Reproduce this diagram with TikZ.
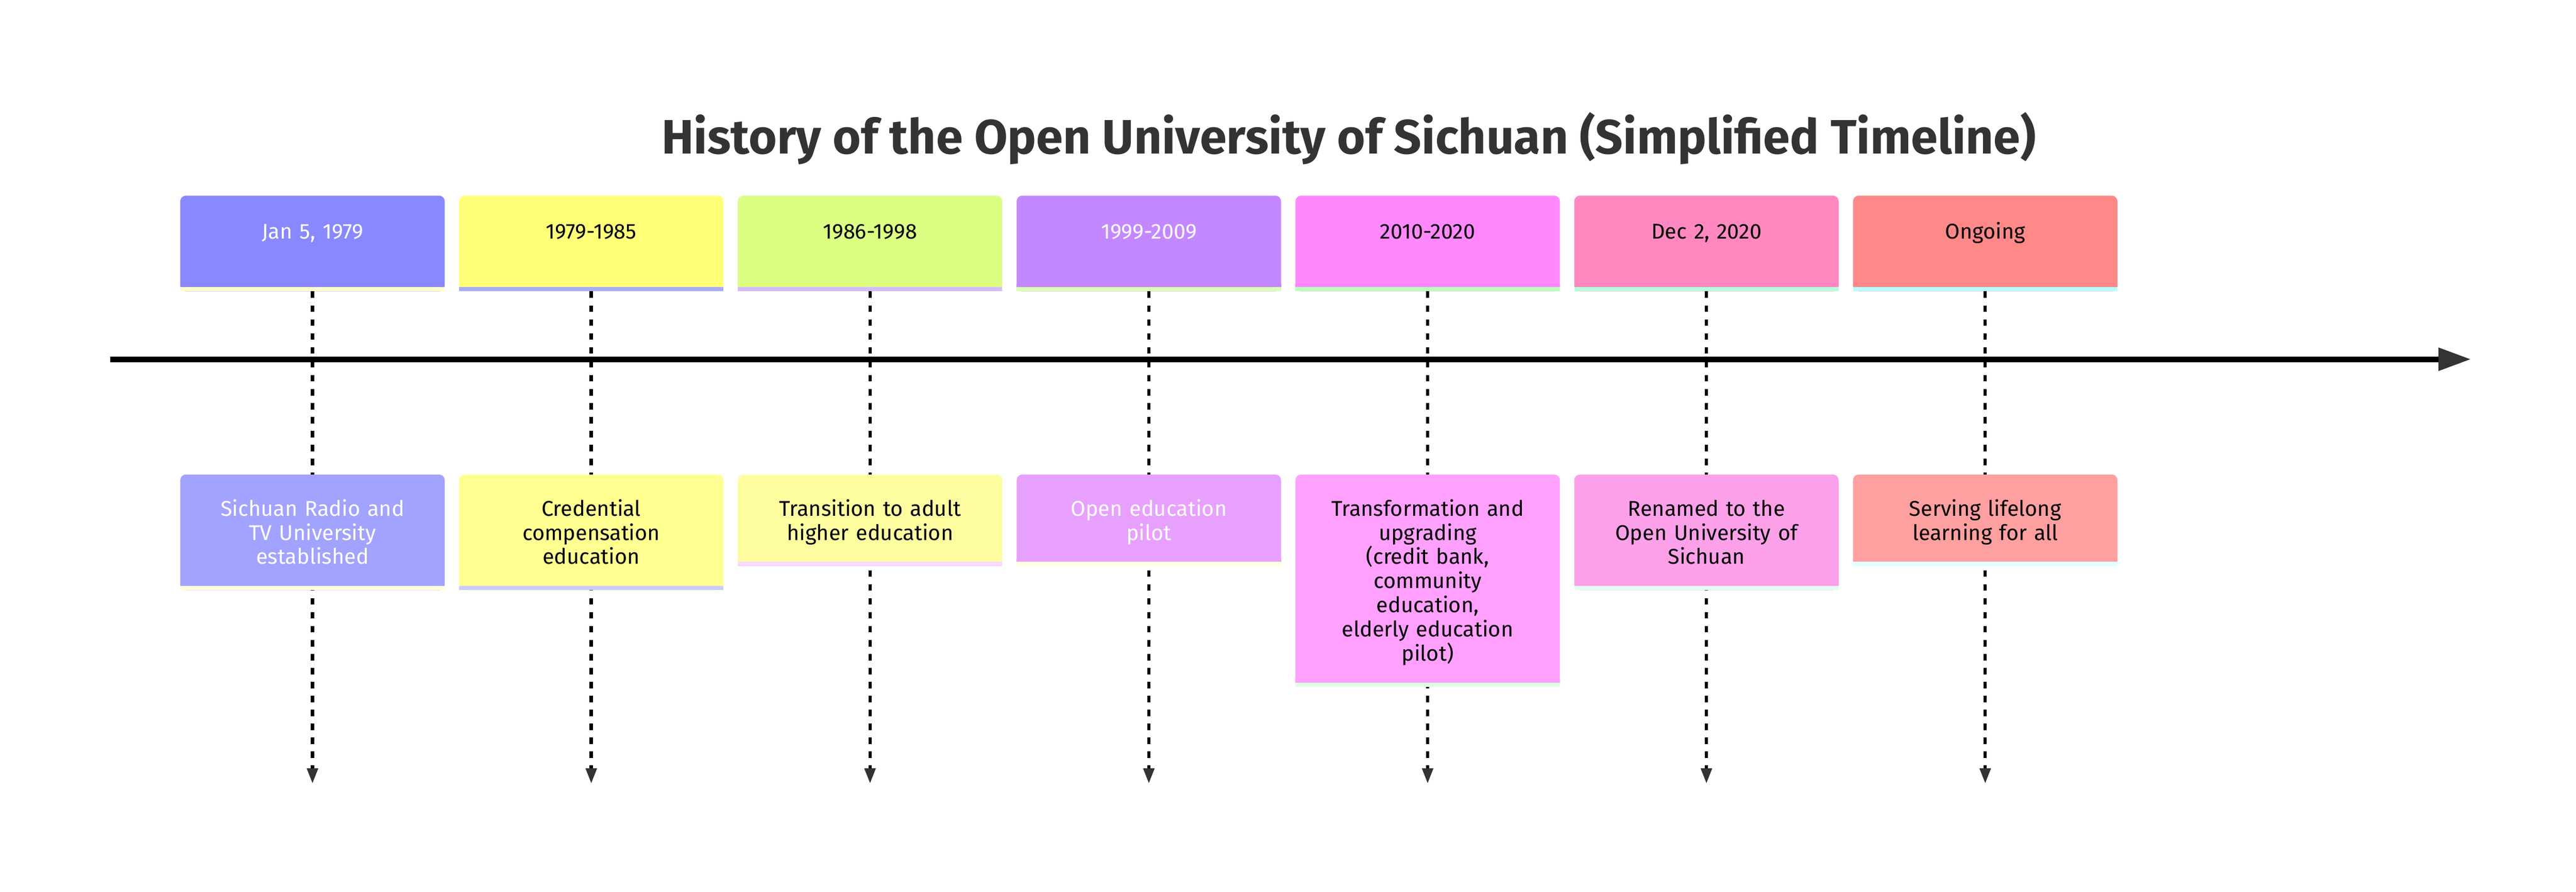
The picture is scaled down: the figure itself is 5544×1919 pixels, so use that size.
\documentclass[tikz,border=0pt]{standalone}
\usepackage{fontspec}
\setmainfont{Fira Sans}
\usetikzlibrary{positioning,arrows.meta}
\setlength{\lineskiplimit}{-100pt}
\definecolor{texto}{HTML}{333333}
\definecolor{per1}{HTML}{8888FF}\definecolor{bper1}{HTML}{FFFFC8}
\definecolor{per2}{HTML}{FFFF78}\definecolor{bper2}{HTML}{AAAAFF}
\definecolor{per3}{HTML}{DAFF83}\definecolor{bper3}{HTML}{D4BBFF}
\definecolor{per4}{HTML}{C388FF}\definecolor{bper4}{HTML}{DAFFB4}
\definecolor{per5}{HTML}{FF88FF}\definecolor{bper5}{HTML}{BBFFBB}
\definecolor{per6}{HTML}{FF88C0}\definecolor{bper6}{HTML}{B4FFDA}
\definecolor{per7}{HTML}{FF8888}\definecolor{bper7}{HTML}{B4FFFF}
\definecolor{suc1}{HTML}{A2A2FF}\definecolor{bsuc1}{HTML}{FFFFDD}
\definecolor{suc2}{HTML}{FFFF91}\definecolor{bsuc2}{HTML}{CCCCFF}
\definecolor{suc3}{HTML}{FDFDA0}\definecolor{bsuc3}{HTML}{F8D8FF}
\definecolor{suc4}{HTML}{E8A0FF}\definecolor{bsuc4}{HTML}{FFFFDC}
\definecolor{suc5}{HTML}{FFA0FF}\definecolor{bsuc5}{HTML}{E0FFE0}
\definecolor{suc6}{HTML}{FCA0EA}\definecolor{bsuc6}{HTML}{E0FFF2}
\definecolor{suc7}{HTML}{FFA0A0}\definecolor{bsuc7}{HTML}{E0FFFF}
\tikzstyle{periodo} = [rectangle, rounded corners=3pt, text width=142.25pt, align=center, inner xsep=0pt, inner ysep=0pt, outer sep=0pt, text height=23.25pt, text depth=28.25pt, font=\fontsize{11.5}{13}\selectfont]
\tikzstyle{suceso} = [rectangle, rounded corners=3pt, text width=142.25pt, align=center, inner xsep=0pt, inner ysep=10.1pt, outer sep=0pt, text height=12.15pt, font=\fontsize{11.5}{13}\selectfont, execute at end node=\strut]
\tikzstyle{titulo} = [font=\fontsize{26}{30}\selectfont\bfseries, text=texto, anchor=base]
\tikzstyle{eje} = [line width=3pt, -{Triangle[length=17.5pt,width=11.75pt,color=texto]}]
\tikzstyle{guia} = [line width=1.75pt, dash pattern=on 3.5pt off 4pt, -{Triangle[length=8.25pt,width=5.75pt,color=texto]}]
\newcommand{\franja}[3]{%
  \fill[#2] ([yshift=4pt]#1.south west) rectangle (#1.south east);
  \fill[#3] (#1.south west) rectangle ([yshift=2.25pt]#1.south east);}

\begin{document}
\begin{tikzpicture}[x=0.25pt, y=-0.25pt]
		\fill[white] (0,0) rectangle (5544,1919);
		\useasboundingbox (0,0) rectangle (5544,1919);
		\node[titulo] (titulo) at (2903,331) {History of the Open University of Sichuan (Simplified Timeline)};
		% eje del tiempo
		\coordinate (ini) at (237,773);
		\coordinate (fin) at (5318,773);
		\coordinate (fondo) at (0,1686);
		\draw[eje] (ini) -- (fin);
		% periodos
		\node[periodo, fill=per1, text=white, anchor=north] (p1) at (672.5,421) {Jan 5, 1979};
		\node[periodo, fill=per2, right=7.75pt of p1] (p2) {1979-1985};
		\node[periodo, fill=per3, right=7.75pt of p2] (p3) {1986-1998};
		\node[periodo, fill=per4, text=white, right=7.75pt of p3] (p4) {1999-2009};
		\node[periodo, fill=per5, right=7.75pt of p4] (p5) {2010-2020};
		\node[periodo, fill=per6, right=7.75pt of p5] (p6) {Dec 2, 2020};
		\node[periodo, fill=per7, right=7.75pt of p6] (p7) {Ongoing};
		\draw[guia] (p1) -- (p1 |- fondo);
		\draw[guia] (p2) -- (p2 |- fondo);
		\draw[guia] (p3) -- (p3 |- fondo);
		\draw[guia] (p4) -- (p4 |- fondo);
		\draw[guia] (p5) -- (p5 |- fondo);
		\draw[guia] (p6) -- (p6 |- fondo);
		\draw[guia] (p7) -- (p7 |- fondo);
		% sucesos
		\node[suceso, fill=suc1, text=white, below=98.5pt of p1] (e1) {Sichuan Radio and\\TV University\\established};
		\node[suceso, fill=suc2, below=98.5pt of p2] (e2) {Credential\\compensation\\education};
		\node[suceso, fill=suc3, below=98.5pt of p3] (e3) {Transition to adult\\higher education};
		\node[suceso, fill=suc4, text=white, below=98.5pt of p4] (e4) {Open education\\pilot};
		\node[suceso, fill=suc5, below=98.5pt of p5] (e5) {Transformation and\\upgrading\\(credit bank,\\community\\education,\\elderly education\\pilot)};
		\node[suceso, fill=suc6, below=98.5pt of p6] (e6) {Renamed to the\\Open University of\\Sichuan};
		\node[suceso, fill=suc7, below=98.5pt of p7] (e7) {Serving lifelong\\learning for all};
		\franja{p1}{per1}{bper1} \franja{p2}{per2}{bper2} \franja{p3}{per3}{bper3}
		\franja{p4}{per4}{bper4} \franja{p5}{per5}{bper5} \franja{p6}{per6}{bper6}
		\franja{p7}{per7}{bper7}
		\franja{e1}{suc1}{bsuc1} \franja{e2}{suc2}{bsuc2} \franja{e3}{suc3}{bsuc3}
		\franja{e4}{suc4}{bsuc4} \franja{e5}{suc5}{bsuc5} \franja{e6}{suc6}{bsuc6}
		\franja{e7}{suc7}{bsuc7}
	\end{tikzpicture}
\end{document}
